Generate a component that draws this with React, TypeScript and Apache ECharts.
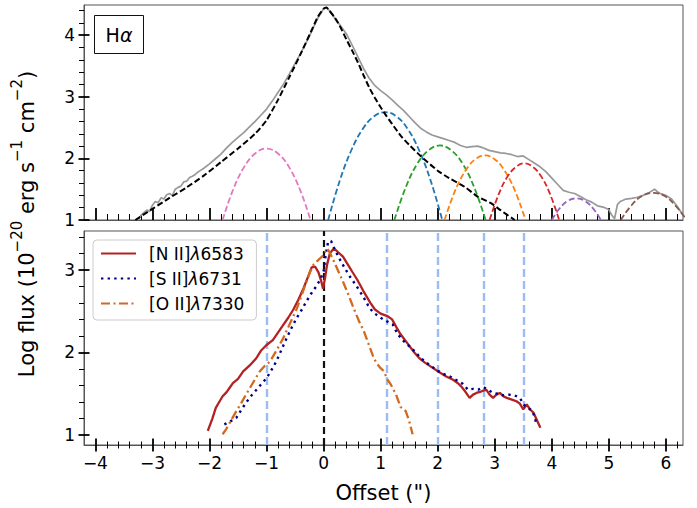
import React, { useEffect, useRef } from 'react';
import * as echarts from 'echarts';

// ---------- tick labels ----------
const xTicks = [-4, -3, -2, -1, 0, 1, 2, 3, 4, 5, 6];
const yTopTicks = [1, 2, 3, 4];
const yBottomTicks = [1, 2, 3];

// ---------- top panel: H-alpha ----------
const haObserved: [number, number][] = [
  [-3.25, 1.0], [-3.2, 1.08], [-3.15, 1.12], [-3.1, 1.16], [-3.05, 1.14], [-3.0, 1.24], [-2.95, 1.3], [-2.9, 1.28],
  [-2.85, 1.36], [-2.8, 1.34], [-2.75, 1.41], [-2.7, 1.43], [-2.65, 1.4], [-2.6, 1.5], [-2.55, 1.53], [-2.5, 1.55],
  [-2.45, 1.62], [-2.4, 1.63], [-2.35, 1.69], [-2.3, 1.71], [-2.25, 1.74], [-2.2, 1.78], [-2.15, 1.81], [-2.1, 1.84],
  [-2.0, 1.91], [-1.9, 1.99], [-1.8, 2.07], [-1.7, 2.17], [-1.6, 2.26], [-1.5, 2.34], [-1.4, 2.42], [-1.3, 2.51],
  [-1.2, 2.6], [-1.1, 2.7], [-1.0, 2.8], [-0.9, 2.93], [-0.8, 3.07], [-0.7, 3.21], [-0.6, 3.37], [-0.5, 3.54],
  [-0.4, 3.71], [-0.3, 3.89], [-0.2, 4.08], [-0.1, 4.28], [0.0, 4.43], [0.05, 4.45], [0.1, 4.4], [0.2, 4.27],
  [0.3, 4.15], [0.4, 4.02], [0.5, 3.84], [0.6, 3.65], [0.7, 3.46], [0.8, 3.3], [0.9, 3.18], [1.0, 3.1],
  [1.1, 3.03], [1.2, 2.95], [1.3, 2.86], [1.4, 2.78], [1.5, 2.68], [1.6, 2.58], [1.7, 2.49], [1.8, 2.43],
  [1.9, 2.38], [2.0, 2.35], [2.1, 2.32], [2.2, 2.29], [2.3, 2.26], [2.4, 2.21], [2.5, 2.18], [2.6, 2.19],
  [2.7, 2.2], [2.8, 2.17], [2.9, 2.13], [3.0, 2.11], [3.1, 2.09], [3.2, 2.08], [3.3, 2.06], [3.4, 2.03],
  [3.5, 2.04], [3.6, 1.98], [3.7, 1.92], [3.8, 1.86], [3.9, 1.78], [4.0, 1.68], [4.1, 1.58], [4.2, 1.48],
  [4.3, 1.45], [4.4, 1.43], [4.5, 1.38], [4.6, 1.33], [4.7, 1.29], [4.8, 1.23], [4.9, 1.21], [5.0, 1.17],
  [5.05, 1.08], [5.1, 1.02], [5.15, 1.25], [5.2, 1.3], [5.3, 1.34], [5.4, 1.35], [5.5, 1.37], [5.6, 1.4],
  [5.7, 1.44], [5.8, 1.5], [5.85, 1.46], [5.9, 1.43], [6.0, 1.4], [6.1, 1.34], [6.2, 1.22], [6.3, 1.08],
];

const haModel: [number, number][] = [
  [-3.3, 1.0], [-3.0, 1.18], [-2.7, 1.36], [-2.4, 1.53], [-2.1, 1.72], [-1.8, 1.94], [-1.5, 2.16], [-1.2, 2.4],
  [-1.0, 2.62], [-0.8, 2.95], [-0.6, 3.32], [-0.4, 3.7], [-0.2, 4.1], [-0.1, 4.3], [0.0, 4.43], [0.05, 4.45],
  [0.1, 4.4], [0.2, 4.28], [0.3, 4.12], [0.4, 3.93], [0.5, 3.75], [0.6, 3.56], [0.7, 3.35], [0.8, 3.15],
  [0.9, 2.98], [1.0, 2.83], [1.1, 2.69], [1.2, 2.56], [1.35, 2.37], [1.5, 2.22], [1.7, 2.04], [2.0, 1.8],
  [2.2, 1.68], [2.47, 1.54], [2.7, 1.38], [2.94, 1.27], [3.1, 1.16], [3.35, 1.0],
];

const compPink: [number, number][] = [
  [-1.77, 1.0], [-1.6, 1.46], [-1.4, 1.85], [-1.2, 2.08], [-1.0, 2.16], [-0.8, 2.08], [-0.6, 1.85], [-0.4, 1.46], [-0.23, 1.0],
];
const compBlue: [number, number][] = [
  [0.08, 1.0], [0.28, 1.63], [0.48, 2.12], [0.68, 2.47], [0.88, 2.68], [1.08, 2.75], [1.28, 2.68], [1.48, 2.47], [1.68, 2.12], [1.88, 1.63], [2.08, 1.0],
];
const compGreen: [number, number][] = [
  [1.24, 1.0], [1.44, 1.53], [1.64, 1.91], [1.84, 2.13], [2.04, 2.21], [2.24, 2.13], [2.44, 1.91], [2.64, 1.53], [2.84, 1.0],
];
const compOrange: [number, number][] = [
  [2.12, 1.0], [2.33, 1.53], [2.53, 1.86], [2.68, 2.0], [2.83, 2.05], [2.98, 2.0], [3.13, 1.86], [3.33, 1.53], [3.54, 1.0],
];
const compRed: [number, number][] = [
  [2.91, 1.0], [3.07, 1.42], [3.22, 1.7], [3.37, 1.86], [3.52, 1.92], [3.67, 1.86], [3.82, 1.7], [3.97, 1.42], [4.13, 1.0],
];
const compPurple: [number, number][] = [
  [4.0, 1.0], [4.13, 1.18], [4.28, 1.31], [4.43, 1.35], [4.58, 1.31], [4.73, 1.18], [4.86, 1.0],
];
const compBrown: [number, number][] = [
  [5.21, 1.0], [5.38, 1.22], [5.58, 1.39], [5.78, 1.44], [5.98, 1.39], [6.18, 1.22], [6.38, 0.98],
];

// ---------- bottom panel: forbidden lines ----------
const niiData: [number, number][] = [
  [-2.03, 1.05], [-1.95, 1.2], [-1.89, 1.33], [-1.83, 1.4], [-1.77, 1.47], [-1.7, 1.52], [-1.65, 1.57], [-1.59, 1.63],
  [-1.5, 1.68], [-1.41, 1.77], [-1.3, 1.84], [-1.18, 1.93], [-1.1, 2.02], [-1.0, 2.09], [-0.89, 2.15], [-0.8, 2.24],
  [-0.71, 2.33], [-0.62, 2.42], [-0.53, 2.52], [-0.44, 2.64], [-0.35, 2.78], [-0.27, 2.92], [-0.21, 3.03], [-0.15, 3.04],
  [-0.09, 2.97], [-0.04, 2.86], [-0.01, 2.77], [0.03, 2.92], [0.06, 3.06], [0.11, 3.2], [0.18, 3.26], [0.26, 3.21],
  [0.34, 3.16], [0.42, 3.07], [0.5, 2.98], [0.59, 2.88], [0.7, 2.74], [0.82, 2.6], [0.9, 2.52], [1.0, 2.47],
  [1.12, 2.44], [1.2, 2.4], [1.28, 2.3], [1.35, 2.22], [1.47, 2.11], [1.59, 2.0], [1.68, 1.93], [1.77, 1.88],
  [1.9, 1.82], [2.03, 1.76], [2.15, 1.71], [2.27, 1.67], [2.35, 1.63], [2.41, 1.59], [2.48, 1.53], [2.56, 1.45],
  [2.62, 1.49], [2.68, 1.51], [2.77, 1.53], [2.85, 1.55], [2.91, 1.49], [2.97, 1.45], [3.03, 1.49], [3.09, 1.51],
  [3.15, 1.47], [3.21, 1.45], [3.3, 1.43], [3.38, 1.41], [3.44, 1.38], [3.5, 1.31], [3.56, 1.37], [3.62, 1.31],
  [3.68, 1.27], [3.74, 1.18], [3.8, 1.09],
];

const siiData: [number, number][] = [
  [-1.74, 1.13], [-1.65, 1.16], [-1.53, 1.21], [-1.42, 1.33], [-1.3, 1.45], [-1.15, 1.57], [-1.0, 1.69], [-0.92, 1.78],
  [-0.83, 1.89], [-0.74, 2.03], [-0.65, 2.17], [-0.56, 2.3], [-0.47, 2.42], [-0.38, 2.52], [-0.3, 2.62], [-0.21, 2.72],
  [-0.13, 2.8], [-0.06, 2.88], [0.0, 2.98], [0.04, 3.2], [0.08, 3.34], [0.13, 3.35], [0.2, 3.24], [0.29, 3.12],
  [0.38, 3.01], [0.46, 2.92], [0.58, 2.8], [0.69, 2.68], [0.78, 2.57], [0.86, 2.49], [1.0, 2.42], [1.1, 2.38],
  [1.21, 2.34], [1.3, 2.22], [1.4, 2.14], [1.56, 2.04], [1.68, 1.95], [1.79, 1.88], [1.88, 1.84], [1.97, 1.79],
  [2.1, 1.74], [2.24, 1.7], [2.34, 1.66], [2.44, 1.62], [2.53, 1.55], [2.62, 1.56], [2.71, 1.55], [2.8, 1.58],
  [2.88, 1.55], [2.97, 1.51], [3.06, 1.5], [3.15, 1.48], [3.25, 1.49], [3.35, 1.48], [3.44, 1.45], [3.53, 1.35],
  [3.6, 1.32], [3.65, 1.3], [3.7, 1.22], [3.72, 1.16],
];

const oiiData: [number, number][] = [
  [-1.77, 1.01], [-1.71, 1.07], [-1.62, 1.18], [-1.53, 1.29], [-1.45, 1.38], [-1.36, 1.49], [-1.24, 1.63], [-1.12, 1.77],
  [-1.03, 1.84], [-0.94, 1.89], [-0.82, 2.03], [-0.71, 2.17], [-0.59, 2.35], [-0.47, 2.53], [-0.38, 2.7], [-0.3, 2.86],
  [-0.24, 2.97], [-0.18, 3.06], [-0.09, 3.12], [0.0, 3.18], [0.06, 3.26], [0.1, 3.22], [0.17, 3.12], [0.26, 2.98],
  [0.35, 2.84], [0.44, 2.69], [0.53, 2.53], [0.62, 2.38], [0.71, 2.25], [0.8, 2.08], [0.88, 1.93], [0.94, 1.86],
  [1.0, 1.81], [1.06, 1.77], [1.12, 1.67], [1.18, 1.61], [1.27, 1.49], [1.35, 1.34], [1.44, 1.29], [1.5, 1.17],
  [1.56, 1.01],
];

const componentCentres = [-1.0, 1.1, 2.0, 2.8, 3.5];
const systemicOffset = 0;

const FONT = 'DejaVu Sans';
const X_MIN = -4.2;
const X_MAX = 6.3;
const fmt = (v: number) => (v < 0 ? '\u2212' + Math.abs(v) : String(v));

function buildOption(): any {
  const spine = '#555';
  const majorTick = { color: '#000', width: 1.8 };
  const minorTickStyle = { color: '#000', width: 1 };

  const xBase = {
    type: 'value',
    min: X_MIN,
    max: X_MAX,
    splitNumber: 10,
    position: 'bottom',
    splitLine: { show: false },
    minorSplitLine: { show: false },
  };
  const yBaseTop = { type: 'value', min: 1, max: 4.49, splitNumber: 3, position: 'left', splitLine: { show: false } };
  const yBaseBot = { type: 'value', min: 0.88, max: 3.47, splitNumber: 3, position: 'left', splitLine: { show: false } };

  const gauss = (data: [number, number][], color: string) => ({
    type: 'line',
    xAxisIndex: 0,
    yAxisIndex: 0,
    data,
    smooth: 0.4,
    symbol: 'none',
    silent: true,
    z: 3,
    lineStyle: { color, width: 1.8, type: [6, 2.8] },
  });

  const markData: any[] = componentCentres.map((c) => ({
    xAxis: c,
    lineStyle: { color: '#9bbdf3', width: 2.4, type: [8, 4] },
  }));
  markData.push({ xAxis: systemicOffset, lineStyle: { color: '#111', width: 2.2, type: [7, 4] } });

  return {
    animation: false,
    backgroundColor: '#fff',
    textStyle: { fontFamily: FONT },
    grid: [
      { left: 84, right: 14, top: 5, height: 215, show: true, borderColor: spine, borderWidth: 1, backgroundColor: 'transparent' },
      { left: 84, right: 14, top: 231, height: 214, show: true, borderColor: spine, borderWidth: 1, backgroundColor: 'transparent' },
    ],
    xAxis: [
      {
        ...xBase,
        gridIndex: 0,
        axisLine: { show: true, onZero: false, lineStyle: { color: spine, width: 1 } },
        axisTick: { show: true, inside: true, length: 12, customValues: xTicks, lineStyle: majorTick },
        minorTick: { show: true, splitNumber: 5, length: 6, lineStyle: minorTickStyle },
        axisLabel: { show: false },
      },
      {
        ...xBase,
        gridIndex: 1,
        axisLine: { show: true, onZero: false, lineStyle: { color: spine, width: 1 } },
        axisTick: { show: true, inside: false, length: 6.5, customValues: xTicks, lineStyle: majorTick },
        minorTick: { show: true, splitNumber: 5, length: 3.5, lineStyle: minorTickStyle },
        axisLabel: { show: true, customValues: xTicks, formatter: fmt, fontSize: 17, color: '#000', fontFamily: FONT, margin: 9 },
        name: 'Offset (")',
        nameLocation: 'middle',
        nameGap: 37,
        nameTextStyle: { fontSize: 21, color: '#000', fontFamily: FONT },
      },
      {
        ...xBase,
        gridIndex: 1,
        axisLine: { show: false, onZero: false },
        axisTick: { show: true, inside: true, length: 6.5, customValues: xTicks, lineStyle: majorTick },
        minorTick: { show: true, splitNumber: 5, length: 3.5, lineStyle: minorTickStyle },
        axisLabel: { show: false },
      },
    ],
    yAxis: [
      {
        ...yBaseTop,
        gridIndex: 0,
        axisLine: { show: true, onZero: false, lineStyle: { color: spine, width: 1 } },
        axisTick: { show: true, inside: false, length: 5.5, customValues: yTopTicks, lineStyle: majorTick },
        minorTick: { show: true, splitNumber: 5, length: 5, lineStyle: minorTickStyle },
        axisLabel: { show: true, customValues: yTopTicks, formatter: fmt, fontSize: 17, color: '#000', fontFamily: FONT, margin: 9 },
      },
      {
        ...yBaseTop,
        gridIndex: 0,
        axisLine: { show: false, onZero: false },
        axisTick: { show: true, inside: true, length: 5.5, customValues: yTopTicks, lineStyle: majorTick },
        axisLabel: { show: false },
      },
      {
        ...yBaseBot,
        gridIndex: 1,
        axisLine: { show: true, onZero: false, lineStyle: { color: spine, width: 1 } },
        axisTick: { show: true, inside: false, length: 5.5, customValues: yBottomTicks, lineStyle: majorTick },
        minorTick: { show: true, splitNumber: 5, length: 5, lineStyle: minorTickStyle },
        axisLabel: { show: true, customValues: yBottomTicks, formatter: fmt, fontSize: 17, color: '#000', fontFamily: FONT, margin: 9 },
      },
      {
        ...yBaseBot,
        gridIndex: 1,
        axisLine: { show: false, onZero: false },
        axisTick: { show: true, inside: true, length: 5.5, customValues: yBottomTicks, lineStyle: majorTick },
        axisLabel: { show: false },
      },
    ],
    legend: {
      data: ['[N II]λ6583', '[S II]λ6731', '[O II]λ7330'],
      orient: 'vertical',
      left: 93,
      top: 240,
      itemWidth: 35,
      itemHeight: 17,
      itemGap: 8,
      padding: [5, 12, 8, 7],
      backgroundColor: 'rgba(255,255,255,0.85)',
      borderColor: '#cccccc',
      borderWidth: 1,
      borderRadius: 4,
      selectedMode: false,
      itemStyle: { opacity: 0 },
      formatter: (name: string) => name.replace('λ', '{i|λ}'),
      textStyle: {
        fontSize: 17,
        color: '#000',
        fontFamily: FONT,
        padding: [0, 0, 0, 8],
        rich: { i: { fontSize: 17, fontStyle: 'italic', fontFamily: FONT, color: '#000' } },
      },
    },
    series: [
      {
        type: 'line',
        name: 'Hα observed',
        xAxisIndex: 0,
        yAxisIndex: 0,
        data: haObserved,
        symbol: 'none',
        silent: true,
        z: 2,
        lineStyle: { color: '#999999', width: 1.7 },
      },
      gauss(compPink, '#e377c2'),
      gauss(compBlue, '#1f77b4'),
      gauss(compGreen, '#2ca02c'),
      gauss(compOrange, '#ff7f0e'),
      gauss(compRed, '#d62728'),
      gauss(compPurple, '#9467bd'),
      gauss(compBrown, '#8c564b'),
      {
        type: 'line',
        name: 'Hα model',
        xAxisIndex: 0,
        yAxisIndex: 0,
        data: haModel,
        symbol: 'none',
        silent: true,
        smooth: 0.2,
        z: 4,
        lineStyle: { color: '#000', width: 2, type: [6, 2.8] },
      },
      {
        type: 'line',
        name: 'markers',
        xAxisIndex: 1,
        yAxisIndex: 2,
        data: [[systemicOffset, 2]],
        symbol: 'none',
        silent: true,
        z: 1,
        lineStyle: { opacity: 0 },
        markLine: {
          silent: true,
          symbol: ['none', 'none'],
          label: { show: false },
          data: markData,
          z: 1,
        },
      },
      {
        type: 'line',
        name: '[N II]λ6583',
        xAxisIndex: 1,
        yAxisIndex: 2,
        data: niiData,
        symbol: 'none',
        silent: true,
        z: 5,
        color: '#b22222',
        lineStyle: { color: '#b22222', width: 2.3 },
      },
      {
        type: 'line',
        name: '[S II]λ6731',
        xAxisIndex: 1,
        yAxisIndex: 2,
        data: siiData,
        symbol: 'none',
        silent: true,
        z: 5,
        color: '#00008b',
        lineStyle: { color: '#00008b', width: 2.4, type: [2.4, 4.2] },
      },
      {
        type: 'line',
        name: '[O II]λ7330',
        xAxisIndex: 1,
        yAxisIndex: 2,
        data: oiiData,
        symbol: 'none',
        silent: true,
        z: 5,
        color: '#d2691e',
        lineStyle: { color: '#d2691e', width: 2.3, type: [9, 3.5, 2, 3.5] },
      },
    ],
    graphic: [
      {
        type: 'rect',
        shape: { x: 94.5, y: 15.5, width: 49, height: 38 },
        style: { fill: '#fff', stroke: '#111', lineWidth: 1 },
        z: 10,
        silent: true,
      },
      {
        type: 'text',
        x: 119,
        y: 34.5,
        z: 11,
        silent: true,
        style: {
          text: 'H{i|α}',
          fontSize: 19,
          fontFamily: FONT,
          fill: '#000',
          align: 'center',
          verticalAlign: 'middle',
          rich: { i: { fontSize: 19, fontStyle: 'italic', fontFamily: FONT, fill: '#000' } },
        },
      },
      {
        type: 'text',
        x: 23,
        y: 224,
        rotation: Math.PI / 2,
        silent: true,
        style: {
          text: '{b|Log flux (10}{s|\u221220}{b| erg s}{s|\u22121}{b| cm}{s|\u22122}{b|)}',
          align: 'center',
          verticalAlign: 'middle',
          fill: '#000',
          fontFamily: FONT,
          fontSize: 21,
          rich: {
            b: { fontSize: 21, fontFamily: FONT, fill: '#000', lineHeight: 28, verticalAlign: 'bottom' },
            s: { fontSize: 15, fontFamily: FONT, fill: '#000', lineHeight: 18, verticalAlign: 'top' },
          },
        },
      },
    ],
  };
}

export default function App() {
  const ref = useRef<HTMLDivElement>(null);
  useEffect(() => {
    if (!ref.current) return;
    const chart = echarts.init(ref.current, undefined, { renderer: 'svg' });
    chart.setOption(buildOption());
    return () => chart.dispose();
  }, []);
  return <div ref={ref} style={{ width: 697, height: 508, position: 'absolute', left: 0, top: 0 }} />;
}
